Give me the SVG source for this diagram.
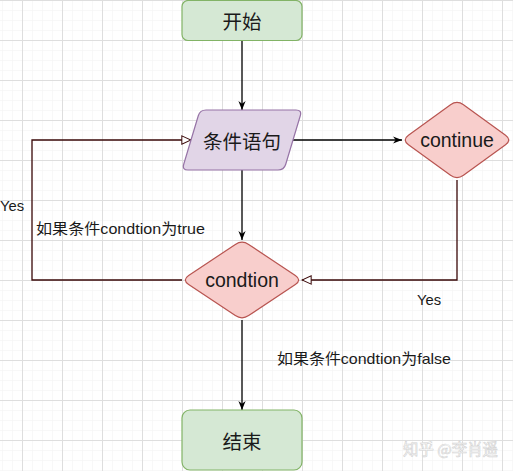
<svg xmlns="http://www.w3.org/2000/svg" width="513" height="471" viewBox="0 0 513 471">
<style>
.cn{font-family:"Noto Sans CJK SC","Liberation Sans",sans-serif;}
.lt{font-family:"Liberation Sans","Noto Sans CJK SC",sans-serif;}
.node{font-size:19.5px;fill:#1a1a1a;text-anchor:middle;dominant-baseline:central;}
.lbl{font-size:14.8px;fill:#1a1a1a;}
.blk{fill:none;stroke:#000;stroke-width:1.3;}
.mar{fill:none;stroke:#3a0808;stroke-width:1.3;}
</style>
<defs>
<pattern id="minor" x="2" y="0" width="10" height="10" patternUnits="userSpaceOnUse">
<path d="M0,0 V10 M0,0 H10" fill="none" stroke="#f2f2f2" stroke-width="1"/>
</pattern>
<pattern id="major" x="22" y="0" width="40" height="40" patternUnits="userSpaceOnUse">
<path d="M0.5,0 V40 M0,0.5 H40" fill="none" stroke="#dedede" stroke-width="1"/>
</pattern>
<marker id="arr" viewBox="0 0 10 10" markerWidth="9" markerHeight="9" refX="10" refY="5" orient="auto" markerUnits="userSpaceOnUse">
<path d="M0,1 L10,5 L0,9 L3,5 Z" fill="#000"/>
</marker>
<marker id="open" viewBox="0 0 12 12" markerWidth="11" markerHeight="11" refX="11" refY="6" orient="auto" markerUnits="userSpaceOnUse">
<path d="M1,1.5 L11,6 L1,10.5 Z" fill="#fff" stroke="#3a0808" stroke-width="1.1"/>
</marker>
</defs>
<rect width="513" height="471" fill="#fff"/>
<rect width="513" height="471" fill="url(#minor)"/>
<rect width="513" height="471" fill="url(#major)"/>

<g id="connectors">
<path class="blk" d="M242,40 L242,110" marker-end="url(#arr)"/>
<path class="blk" d="M293,140 L402,140" marker-end="url(#arr)"/>
<path class="blk" d="M242,170 L242,240" marker-end="url(#arr)"/>
<path class="blk" d="M242,320 L242,410" marker-end="url(#arr)"/>
<path class="mar" d="M457,180 L457,280 L302,280" marker-end="url(#open)"/>
<path class="mar" d="M182,280 L32,280 L32,140 L191,140" marker-end="url(#open)"/>
<text class="lt lbl" x="0" y="211">Yes</text>
<text class="lt lbl" x="417" y="305">Yes</text>
<text class="cn lbl" x="36" y="234" textLength="169" lengthAdjust="spacingAndGlyphs">如果条件<tspan class="lt">condtion</tspan>为<tspan class="lt">true</tspan></text>
<text class="cn lbl" x="277" y="364" textLength="174" lengthAdjust="spacingAndGlyphs">如果条件<tspan class="lt">condtion</tspan>为<tspan class="lt">false</tspan></text>
</g>

<g id="start">
<rect x="182" y="0.5" width="120" height="40" rx="6" fill="#d5e8d4" stroke="#82b366" stroke-width="1.2"/>
<text class="cn node" x="242" y="20">开始</text>
</g>
<g id="cond-stmt">
<path d="M198.28,115.75 Q200,110 206,110 L296,110 Q302,110 300.28,115.75 L285.72,164.25 Q284,170 278,170 L188,170 Q182,170 183.72,164.25 Z" fill="#e1d5e7" stroke="#9673a6" stroke-width="1.2"/>
<text class="cn node" x="242" y="140">条件语句</text>
</g>
<g id="continue">
<path d="M450.53,104.71 Q457,100 463.47,104.71 L505.53,135.29 Q512,140 505.53,144.71 L463.47,175.29 Q457,180 450.53,175.29 L408.47,144.71 Q402,140 408.47,135.29 Z" fill="#f8cecc" stroke="#b85450" stroke-width="1.2"/>
<text class="lt node" x="457" y="140">continue</text>
</g>
<g id="condtion">
<path d="M235.34,244.44 Q242,240 248.66,244.44 L295.34,275.56 Q302,280 295.34,284.44 L248.66,315.56 Q242,320 235.34,315.56 L188.66,284.44 Q182,280 188.66,275.56 Z" fill="#f8cecc" stroke="#b85450" stroke-width="1.2"/>
<text class="lt node" x="242" y="280">condtion</text>
</g>
<g id="end">
<rect x="182" y="410" width="120" height="60" rx="8" fill="#d5e8d4" stroke="#82b366" stroke-width="1.2"/>
<text class="cn node" x="242" y="440">结束</text>
</g>
<text class="cn" x="403" y="455" font-size="15.4" fill="#fff" stroke="#d2d2d2" stroke-width="0.6">知乎 @李肖遥</text>
</svg>
